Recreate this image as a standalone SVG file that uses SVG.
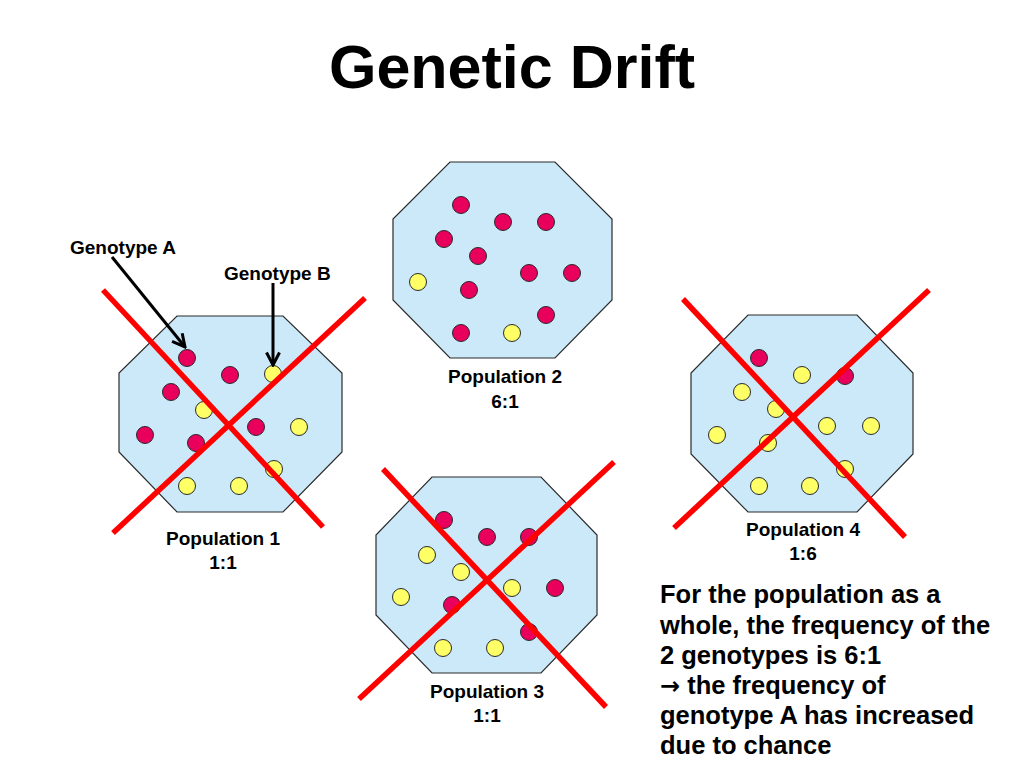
<svg xmlns="http://www.w3.org/2000/svg" width="1024" height="768" viewBox="0 0 1024 768">
<style>
.oct{fill:#cce9fa;stroke:#2a2a2a;stroke-width:1.2}
.a{fill:#e8005c;stroke:#2a2a2a;stroke-width:1}
.b{fill:#ffff66;stroke:#2a2a2a;stroke-width:1}
.x{stroke:#ff0000;stroke-width:5.5;stroke-linecap:butt}
.lbl{font-family:"Liberation Sans",Arial,sans-serif;font-weight:bold;font-size:19px;fill:#000;text-anchor:middle}
.gl{font-family:"Liberation Sans",Arial,sans-serif;font-weight:bold;font-size:19px;fill:#000}
.arr{stroke:#000;stroke-width:3;fill:none}
.sym{font-family:"DejaVu Sans",sans-serif;font-size:24px;font-weight:bold}
</style>
<defs>
<marker id="ah" viewBox="0 0 16 16" refX="14" refY="8" markerWidth="16" markerHeight="16" markerUnits="userSpaceOnUse" orient="auto">
<polyline points="1.5,1.5 14,8 1.5,14.5" fill="none" stroke="#000" stroke-width="3"/>
</marker>
</defs>
<rect width="1024" height="768" fill="#fff"/>
<text x="512" y="88" font-family="Liberation Sans,Arial,sans-serif" font-weight="bold" font-size="61" text-anchor="middle">Genetic Drift</text>

<g id="population1">
<polygon class="oct" points="177,316 283,316 342,373 342,452 283,512 177,512 119,452 119,373"/>
<circle class="a" cx="187" cy="358" r="8.5"/>
<circle class="a" cx="230" cy="375" r="8.5"/>
<circle class="b" cx="273" cy="374" r="8.5"/>
<circle class="a" cx="171" cy="392" r="8.5"/>
<circle class="b" cx="204" cy="410" r="8.5"/>
<circle class="a" cx="145" cy="435" r="8.5"/>
<circle class="a" cx="196" cy="443" r="8.5"/>
<circle class="a" cx="256" cy="427" r="8.5"/>
<circle class="b" cx="299" cy="427" r="8.5"/>
<circle class="b" cx="274" cy="469" r="8.5"/>
<circle class="b" cx="187" cy="486" r="8.5"/>
<circle class="b" cx="239" cy="486" r="8.5"/>
<line class="x" x1="103" y1="290" x2="323" y2="527"/>
<line class="x" x1="365" y1="298" x2="113" y2="533"/>
<text class="lbl" x="223" y="545">Population 1</text>
<text class="lbl" x="223" y="569">1:1</text>
</g>

<g id="population2">
<polygon class="oct" points="450,162 555,162 612,219 612,300 555,358 450,358 393,300 393,219"/>
<circle class="a" cx="461" cy="205" r="8.5"/>
<circle class="a" cx="503" cy="222" r="8.5"/>
<circle class="a" cx="546" cy="222" r="8.5"/>
<circle class="a" cx="444" cy="239" r="8.5"/>
<circle class="a" cx="478" cy="256" r="8.5"/>
<circle class="a" cx="529" cy="273" r="8.5"/>
<circle class="a" cx="572" cy="273" r="8.5"/>
<circle class="b" cx="418" cy="282" r="8.5"/>
<circle class="a" cx="469" cy="290" r="8.5"/>
<circle class="a" cx="546" cy="315" r="8.5"/>
<circle class="a" cx="461" cy="333" r="8.5"/>
<circle class="b" cx="512" cy="333" r="8.5"/>
<text class="lbl" x="505" y="383">Population 2</text>
<text class="lbl" x="505" y="408">6:1</text>
</g>

<g id="population3">
<polygon class="oct" points="432,477 541,477 597,535 597,615 541,673 432,673 376,615 376,535"/>
<circle class="a" cx="444" cy="520" r="8.5"/>
<circle class="a" cx="487" cy="537" r="8.5"/>
<circle class="a" cx="529" cy="537" r="8.5"/>
<circle class="b" cx="427" cy="555" r="8.5"/>
<circle class="b" cx="461" cy="572" r="8.5"/>
<circle class="b" cx="512" cy="588" r="8.5"/>
<circle class="a" cx="555" cy="588" r="8.5"/>
<circle class="b" cx="401" cy="597" r="8.5"/>
<circle class="a" cx="452" cy="605" r="8.5"/>
<circle class="a" cx="529" cy="632" r="8.5"/>
<circle class="b" cx="443" cy="648" r="8.5"/>
<circle class="b" cx="495" cy="648" r="8.5"/>
<line class="x" x1="383" y1="469" x2="606" y2="707"/>
<line class="x" x1="614" y1="462" x2="359" y2="699"/>
<text class="lbl" x="487" y="698">Population 3</text>
<text class="lbl" x="487" y="722">1:1</text>
</g>

<g id="population4">
<polygon class="oct" points="748,315 857,315 913,373 913,454 857,512 748,512 691,454 691,373"/>
<circle class="a" cx="759" cy="358" r="8.5"/>
<circle class="b" cx="802" cy="375" r="8.5"/>
<circle class="a" cx="845" cy="376" r="8.5"/>
<circle class="b" cx="742" cy="392" r="8.5"/>
<circle class="b" cx="776" cy="409" r="8.5"/>
<circle class="b" cx="827" cy="426" r="8.5"/>
<circle class="b" cx="871" cy="426" r="8.5"/>
<circle class="b" cx="717" cy="435" r="8.5"/>
<circle class="b" cx="768" cy="443" r="8.5"/>
<circle class="b" cx="845" cy="469" r="8.5"/>
<circle class="b" cx="759" cy="486" r="8.5"/>
<circle class="b" cx="810" cy="486" r="8.5"/>
<line class="x" x1="683" y1="299" x2="905" y2="537"/>
<line class="x" x1="929" y1="290" x2="674" y2="528"/>
<text class="lbl" x="803" y="536">Population 4</text>
<text class="lbl" x="803" y="560">1:6</text>
</g>

<g id="genotypeA">
<text class="gl" x="70" y="254">Genotype A</text>
</g>
<g id="genotypeB">
<text class="gl" x="224" y="280">Genotype B</text>
</g>

<g id="connectors">
<line class="arr" x1="112" y1="257" x2="185" y2="347" marker-end="url(#ah)"/>
<line class="arr" x1="273" y1="283" x2="273" y2="365" marker-end="url(#ah)"/>
</g>

<g id="summary" font-family="Liberation Sans,Arial,sans-serif" font-weight="bold" font-size="25.5">
<text x="660" y="603">For the population as a</text>
<text x="660" y="634">whole, the frequency of the</text>
<text x="660" y="664">2 genotypes is 6:1</text>
<text x="660" y="694"><tspan class="sym">→</tspan> the frequency of</text>
<text x="660" y="724">genotype A has increased</text>
<text x="660" y="754">due to chance</text>
</g>
</svg>
